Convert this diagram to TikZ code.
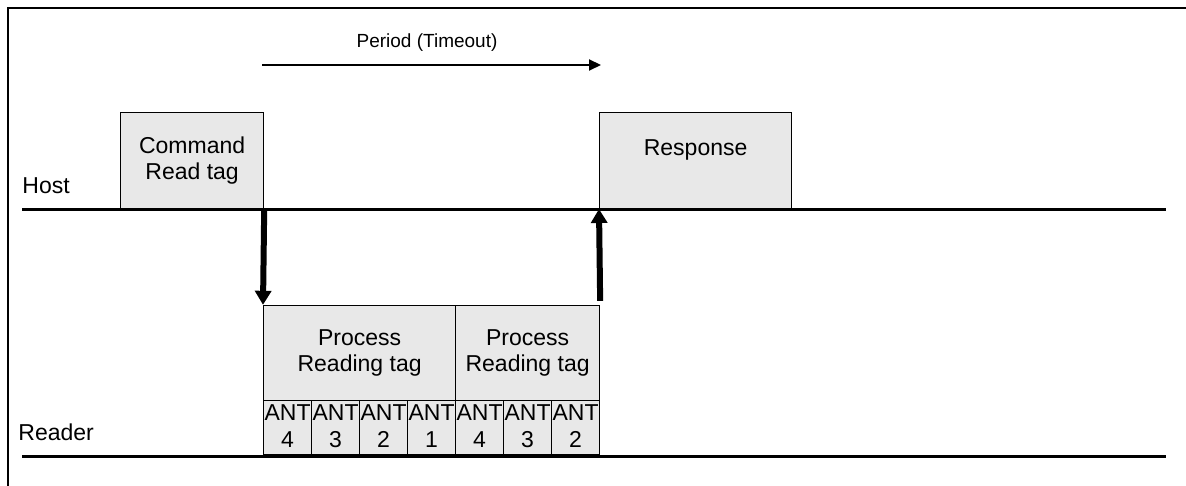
\documentclass[tikz,border=0pt]{standalone}
\usepackage{fontspec}
\setmainfont{Liberation Sans}
\usetikzlibrary{arrows.meta}
\definecolor{boxgray}{HTML}{E8E8E8}
\tikzset{
  msgbox/.style={draw, line width=0.6pt, fill=boxgray, anchor=south west, inner sep=0pt,
    align=center, font=\fontsize{11.5}{13}\selectfont},
  antcell/.style={msgbox, minimum width=24pt, minimum height=27pt,
    font=\fontsize{11.5}{13.5}\selectfont, text depth=1pt},
  timeline/.style={line width=1.5pt},
  signal/.style={line width=3pt, -{Triangle[length=7pt,width=8pt]}},
}
\begin{document}
\begin{tikzpicture}[x=0.5pt, y=-0.5pt]
\useasboundingbox (0,0) rectangle (1186,486);
% frame
\draw[line width=1.1pt] (8,486) -- (8,8) -- (1186,8);
% time lines
\coordinate (hostL) at (22,209); \coordinate (hostR) at (1166,209);
\coordinate (readL) at (22,456); \coordinate (readR) at (1166,456);
\draw[timeline] (hostL) -- (hostR);
\draw[timeline] (readL) -- (readR);
\node[anchor=west, inner sep=0pt, font=\fontsize{11.5}{13}\selectfont] (host) at (22,186) {Host};
\node[anchor=west, inner sep=0pt, font=\fontsize{11.5}{13}\selectfont] (reader) at (18,432) {Reader};
% host messages
\node[msgbox, minimum width=71.5pt, minimum height=48pt] (cmd) at (120,209) {Command\\Read tag};
\node[msgbox, minimum width=96pt, minimum height=48pt] (resp) at (599,209) {Response\\\mbox{}};
% reader processing
\node[msgbox, minimum width=96pt, minimum height=47.5pt] (proc1) at (263,401) {Process\\Reading tag};
\node[msgbox, minimum width=72pt, minimum height=47.5pt] (proc2) at (455,401) {Process\\Reading tag};
\foreach \i/\n in {0/4,1/3,2/2,3/1,4/4,5/3,6/2}
  \node[antcell] (ant\i) at ({263+48*\i},455) {ANT\\\n};
% signals
\draw[signal] (cmd.south east) -- (proc1.north west);
\draw[signal, shorten <=2pt] (proc2.north east) -- (resp.south west);
% period
\coordinate (perA) at (262,65); \coordinate (perB) at (601,65);
\draw[line width=1pt, -{Triangle[length=6pt,width=5.5pt]}] (perA) -- (perB);
\node[font=\fontsize{9.5}{11}\selectfont] (period) at (427,43) {Period (Timeout)};
\end{tikzpicture}
\end{document}
